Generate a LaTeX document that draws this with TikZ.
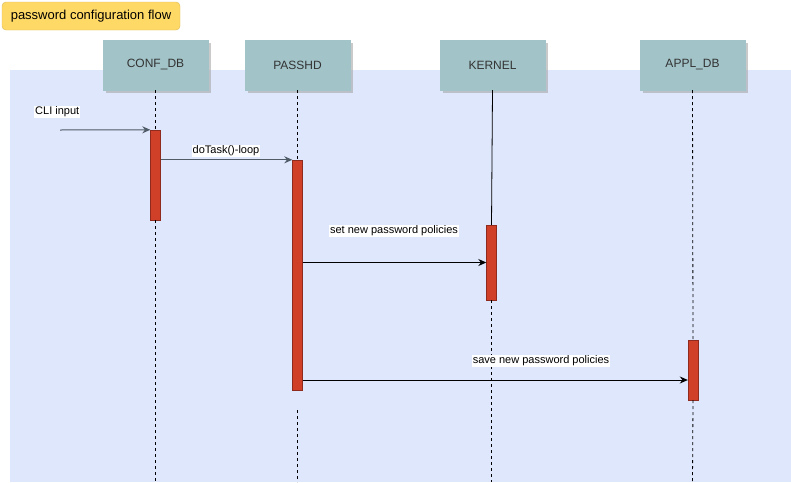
\documentclass[tikz,border=0pt]{standalone}
\usepackage{fontspec}
\setmainfont{Liberation Sans}
\usetikzlibrary{arrows.meta,shadows}
\definecolor{panelblue}{HTML}{DEE7FC}
\definecolor{titleyellow}{HTML}{FFD966}
\definecolor{headteal}{HTML}{A2C4C9}
\definecolor{actred}{HTML}{D04028}
\definecolor{actborder}{HTML}{8E2A1E}
\definecolor{msggray}{HTML}{4F5B66}

\begin{document}
\begin{tikzpicture}[
    x=1pt, y=-1pt,
    every node/.style={font=\fontsize{11}{13}\selectfont},
    titlebox/.style={
        draw=titleyellow!85!black,
        fill=titleyellow,
        rounded corners=4pt,
        minimum width=178pt,
        minimum height=28pt,
        font=\fontsize{13}{15}\selectfont
    },
    header/.style={
        draw=headteal,
        fill=headteal,
        minimum width=105pt,
        minimum height=50pt,
        text=black!80,
        font=\fontsize{12}{14}\selectfont,
        drop shadow={shadow xshift=2.5pt, shadow yshift=-2.5pt, fill=black!35, opacity=0.6}
    },
    activation/.style={
        draw=actborder,
        fill=actred,
        minimum width=10pt,
        inner sep=0pt
    },
    msglabel/.style={fill=white, inner sep=1pt},
    lifeline/.style={dash pattern=on 3pt off 3pt, line width=0.8pt},
    arrow/.style={-{Stealth[length=8pt,width=7pt]}, line width=1pt}
]
\useasboundingbox (0,0) rectangle (791,482);

% Background panel
\fill[panelblue] (10,70) rectangle (791,482);

% Title
\node[titlebox] (flowtitle) at (91,16) {password configuration flow};

% Lifeline heads
\node[header] (confdb) at (155.5,65) {CONF\_DB};
\node[header] (passhd) at (297.5,65) {PASSHD};
\node[header] (kernel) at (492.5,65) {KERNEL};
\node[header] (appldb) at (692.5,65) {APPL\_DB};

% Lifeline ends
\coordinate (confend) at (155.5,482);
\coordinate (passend) at (297.5,482);
\coordinate (kernend) at (491.5,482);
\coordinate (applend) at (692.5,482);
\coordinate (passgap) at (297.5,410);

% Activations
\node[activation, minimum height=90pt] (confact) at (155.5,175) {};
\node[activation, minimum height=230pt] (passact) at (297.5,275) {};
\node[activation, minimum height=75pt] (kernact) at (491.5,262.5) {};
\node[activation, minimum height=60pt] (applact) at (693,370) {};
\coordinate (applin) at ([yshift=-10pt]applact.west);

% Lifelines
\draw[lifeline] (confdb.south) -- (confact.north);
\draw[lifeline] (confact.south) -- (confend);
\draw[lifeline] (passhd.south) -- (passact.north);
\draw[lifeline] (passgap) -- (passend);
\draw[line width=0.8pt] (kernel.south) -- (kernact.north);
\draw[lifeline] (kernact.south) -- (kernend);
\draw[lifeline] (appldb.south) -- (applact.north);
\draw[lifeline] (applact.south) -- (applend);

% Messages
\coordinate (cli) at (60,130);
\draw[arrow, msggray] (cli) -- (confact.north west);
\node[msglabel, anchor=west] (clilabel) at (34,112) {CLI input};

\draw[arrow, msggray] (confact.east |- passact.north) -- (passact.north west);
\node[msglabel] (looplabel) at (226,151) {doTask()-loop};

\draw[arrow] (passact.east |- kernact.west) -- (kernact.west);
\node[msglabel] (setlabel) at (394,231) {set new password policies};

\draw[arrow] (passact.east |- applin) -- (applin);
\node[msglabel] (savelabel) at (541,361) {save new password policies};

\end{tikzpicture}
\end{document}
